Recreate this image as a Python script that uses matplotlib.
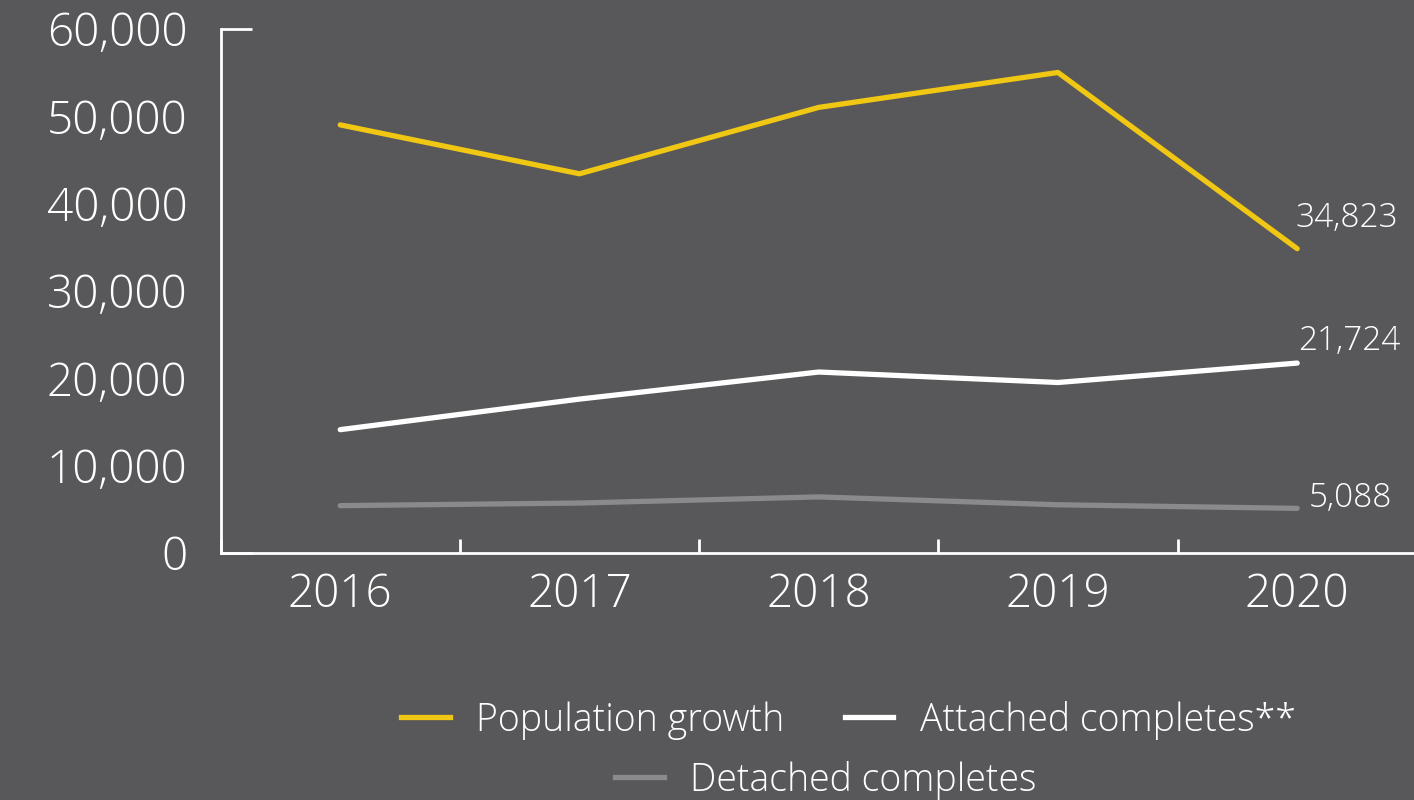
import matplotlib
matplotlib.use("Agg")
import matplotlib.pyplot as plt
from matplotlib.lines import Line2D

years = ["2016", "2017", "2018", "2019", "2020"]
population_growth = [49000, 43400, 51000, 55000, 34823]
attached_completes = [14100, 17600, 20700, 19500, 21724]
detached_completes = [5400, 5700, 6400, 5500, 5088]
y_ticks = [0, 10000, 20000, 30000, 40000, 50000, 60000]

BG = "#58585a"
YELLOW = "#f0c713"
WHITE = "#ffffff"
GREY = "#8a8a8c"

plt.rcParams["font.family"] = ["Open Sans", "DejaVu Sans"]
plt.rcParams["font.weight"] = "light"

fig = plt.figure(figsize=(14.14, 8), dpi=100, facecolor=BG)
ax = fig.add_axes([0.156, 0.309, 0.846, 0.655], facecolor=BG)

x = list(range(len(years)))
lw = 3.8
ax.plot(x, population_growth, color=YELLOW, lw=lw, solid_capstyle="round", label="Population growth")
ax.plot(x, attached_completes, color=WHITE, lw=lw, solid_capstyle="round", label="Attached completes**")
ax.plot(x, detached_completes, color=GREY, lw=lw, solid_capstyle="round", label="Detached completes")

# end-point labels
ax.annotate(f"{population_growth[-1]:,}", (x[-1], population_growth[-1]), xytext=(-1, 10),
            textcoords="offset points", color=WHITE, fontsize=24, ha="left", va="bottom")
ax.annotate(f"{attached_completes[-1]:,}", (x[-1], attached_completes[-1]), xytext=(1, 4),
            textcoords="offset points", color=WHITE, fontsize=24, ha="left", va="bottom")
ax.annotate(f"{detached_completes[-1]:,}", (x[-1], detached_completes[-1]), xytext=(8, -5),
            textcoords="offset points", color=WHITE, fontsize=24, ha="left", va="bottom")

ax.set_xlim(-0.5, 4.5)
ax.set_ylim(0, 60000)

ax.set_xticks([i + 0.5 for i in range(-1, len(years))])
ax.set_xticklabels([])
ax.set_xticks(x, minor=True)
ax.set_xticklabels(years, minor=True)
ax.tick_params(axis="x", which="major", direction="in", length=10, width=2, color=WHITE)
ax.tick_params(axis="x", which="minor", length=0, pad=14, labelsize=33, labelcolor=WHITE)

ax.yaxis.remove_overlapping_locs = False
ax.set_yticks(y_ticks)
ax.set_yticklabels([f"{v:,}" for v in y_ticks])
ax.tick_params(axis="y", which="major", length=0, pad=24, labelsize=33, labelcolor=WHITE)
ax.set_yticks([0, 60000], minor=True)
ax.tick_params(axis="y", which="minor", direction="in", length=22, width=2, color=WHITE)

for side in ["top", "right"]:
    ax.spines[side].set_visible(False)
for side in ["left", "bottom"]:
    ax.spines[side].set_color(WHITE)
    ax.spines[side].set_linewidth(2)

h1 = [Line2D([], [], color=YELLOW, lw=lw), Line2D([], [], color=WHITE, lw=lw)]
fig.legend(h1, ["Population growth", "Attached completes**"], loc="center",
           bbox_to_anchor=(0.6, 0.1), ncol=2, frameon=False, fontsize=27,
           labelcolor=WHITE, handlelength=1.3, handletextpad=0.7, columnspacing=1.6)
h2 = [Line2D([], [], color=GREY, lw=lw)]
fig.legend(h2, ["Detached completes"], loc="center", bbox_to_anchor=(0.584, 0.025),
           frameon=False, fontsize=27, labelcolor=WHITE, handlelength=1.3, handletextpad=0.7)

fig.savefig("out.png", dpi=100, facecolor=BG)
